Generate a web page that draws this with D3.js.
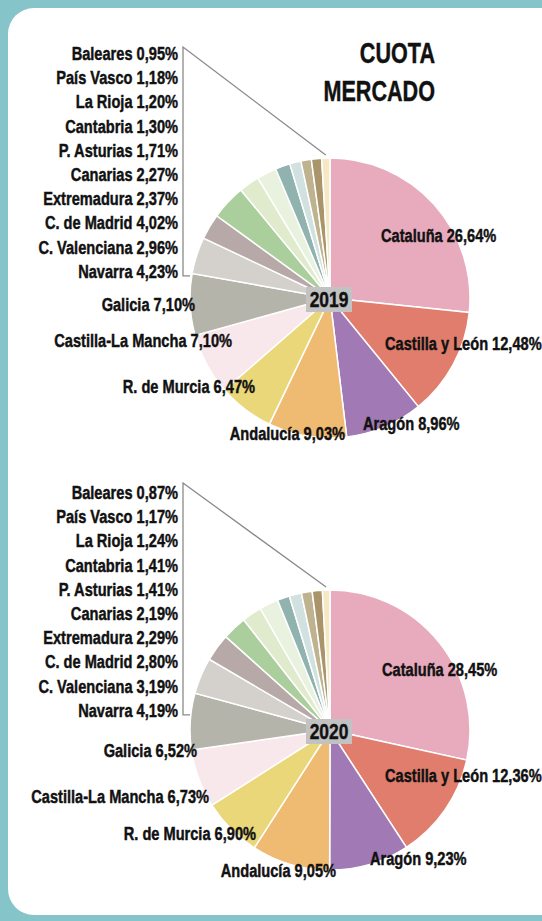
<!DOCTYPE html>
<html>
<head>
<meta charset="utf-8">
<script src="https://cdn.jsdelivr.net/npm/d3@7"></script>
<style>
  body { margin: 0; background: #85c5ca; }
  text { font-family: "Liberation Sans", Arial, sans-serif; font-weight: bold; fill: #111; stroke: #111; stroke-width: 0.45px; }
</style>
</head>
<body>
<div id="chart"></div>
<script>
// regions, clockwise from 12 o'clock
const regions = ['Cataluña', 'Castilla y León', 'Aragón', 'Andalucía', 'R. de Murcia',
  'Castilla-La Mancha', 'Galicia', 'Navarra', 'C. Valenciana', 'C. de Madrid',
  'Extremadura', 'Canarias', 'P. Asturias', 'Cantabria', 'La Rioja', 'País Vasco', 'Baleares'];
const share2019 = [26.64, 12.48, 8.96, 9.03, 6.47, 7.10, 7.10, 4.23, 2.96, 4.02, 2.37, 2.27, 1.71, 1.30, 1.20, 1.18, 0.95];
const share2020 = [28.45, 12.36, 9.23, 9.05, 6.90, 6.73, 6.52, 4.19, 3.19, 2.80, 2.29, 2.19, 1.41, 1.41, 1.24, 1.17, 0.87];
const years = ['2019', '2020'];
const colors = ['#e8aabd', '#e07d6c', '#a179b4', '#efbb72', '#ead779', '#f8e7eb', '#b5b4ab',
  '#d4d1cc', '#b6a9a8', '#abcf9c', '#e0eacc', '#e9f2de', '#90b3b0', '#d0e1e0', '#bfb28f', '#aa956b', '#f6e8c3'];

const width = 542, height = 921;
const radius = 140;
const squeeze = 0.79; // fake a condensed face
const fmt = v => d3.format('.2f')(v).replace('.', ',') + '%';

// label placement relative to pie centre for the big slices (dx, dy, anchor)
const layouts = [
  { cy: 298, listTop: -238, bracketTop: -251,
    labels: [[51, -56, 'start'], [55, 52, 'start'], [33, 132, 'start'], [15, 142, 'end'],
             [-75, 95, 'end'], [-98, 49, 'end'], [-135, 13, 'end']] },
  { cy: 730, listTop: -231, bracketTop: -247,
    labels: [[52, -54, 'start'], [55, 52, 'start'], [40, 135, 'start'], [6, 147, 'end'],
             [-74, 110, 'end'], [-121, 73, 'end'], [-133, 27, 'end']] }
];
const cx = 330, listX = 178, step = 24.2;

function label(parent, x, y, str, size, anchor, sx = squeeze) {
  return parent.append('text')
    .attr('transform', `translate(${x},${y}) scale(${sx},1)`)
    .attr('text-anchor', anchor)
    .style('font-size', size + 'px')
    .text(str);
}

const svg = d3.select('#chart').append('svg')
  .attr('width', width)
  .attr('height', height);

// white card
svg.append('rect')
  .attr('x', 8).attr('y', 8)
  .attr('width', 560).attr('height', 907)
  .attr('rx', 26)
  .attr('fill', '#fff');

// title
label(svg, 435, 63, 'CUOTA', 30, 'end', 0.72);
label(svg, 435, 101, 'MERCADO', 30, 'end', 0.72);

const pie = d3.pie().sort(null).value(d => d.value);
const arc = d3.arc().innerRadius(0).outerRadius(radius);

[share2019, share2020].forEach((shares, yi) => {
  const lay = layouts[yi];
  const data = regions.map((name, i) => ({ name, value: shares[i], color: colors[i] }));
  const arcs = pie(data);

  const g = svg.append('g')
    .attr('transform', `translate(${cx},${lay.cy})`);

  // bracket for the small regions
  const last = arcs[arcs.length - 1];
  const tip = d3.pointRadial((last.startAngle + last.endAngle) / 2, radius + 3);
  const bx = listX + 5 - cx;
  const listBottom = lay.listTop + step * 9;
  g.append('path')
    .attr('d', `M${bx + 7},${listBottom - 2}H${bx}V${lay.bracketTop}L${tip[0]},${tip[1]}`)
    .attr('fill', 'none')
    .attr('stroke', '#8a8a8a')
    .attr('stroke-width', 1.3);

  g.selectAll('path.slice')
    .data(arcs)
    .join('path')
    .attr('class', 'slice')
    .attr('d', arc)
    .attr('fill', d => d.data.color)
    .attr('stroke', '#fff')
    .attr('stroke-width', 1.5);

  // big slice labels
  arcs.slice(0, 7).forEach((d, i) => {
    const [dx, dy, anchor] = lay.labels[i];
    label(g, dx, dy, `${d.data.name} ${fmt(d.data.value)}`, 18.5, anchor);
  });

  // small slice list, Baleares at top
  arcs.slice(7).reverse().forEach((d, i) => {
    label(g, listX - cx, lay.listTop + i * step, `${d.data.name} ${fmt(d.data.value)}`, 18.5, 'end');
  });

  // year badge
  g.append('rect')
    .attr('x', -24).attr('y', -11)
    .attr('width', 46).attr('height', 25)
    .attr('fill', '#c2c2c2');
  label(g, -1, 9, years[yi], 22, 'middle');
});
</script>
</body>
</html>
